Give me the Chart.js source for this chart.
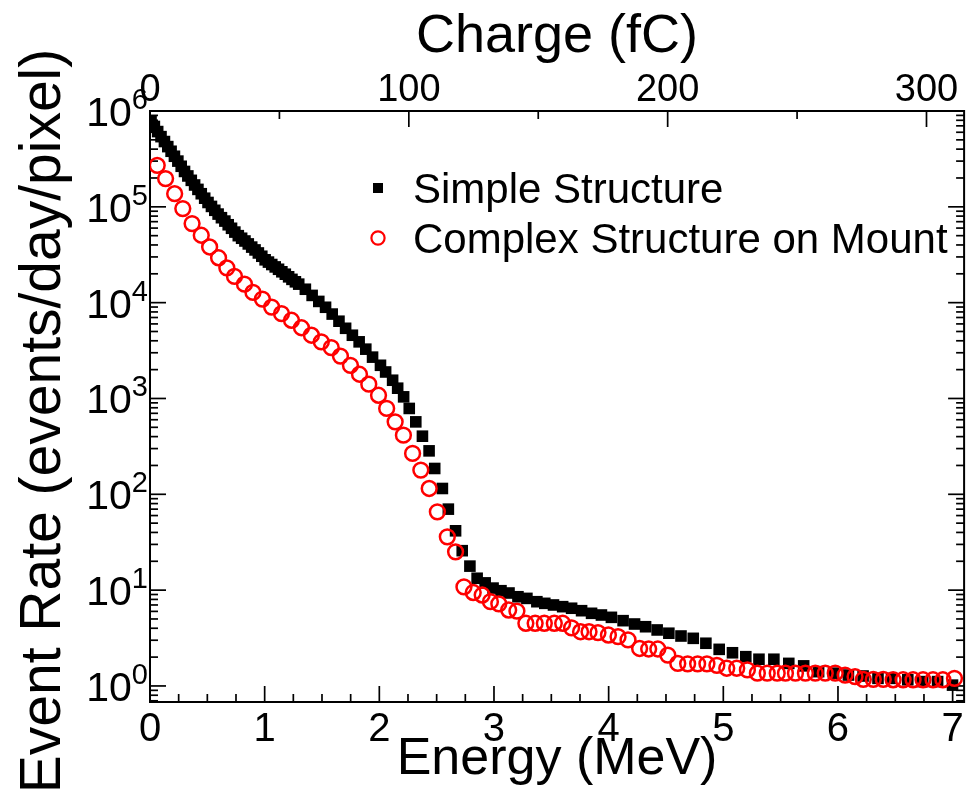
<!DOCTYPE html>
<html>
<head>
<meta charset="utf-8">
<script src="https://cdn.jsdelivr.net/npm/chart.js@4.4.1/dist/chart.umd.min.js"></script>
<style>
  html, body { margin: 0; padding: 0; background: #ffffff; }
  canvas { display: block; }
</style>
</head>
<body>
<canvas id="rateChart" width="974" height="804"></canvas>
<script>
// Simple structure: energy (MeV) and event rate (events/day/pixel)
const energySimple = [
  0.009, 0.038, 0.067, 0.096, 0.126, 0.155, 0.184, 0.213, 0.243, 0.272,
  0.301, 0.330, 0.360, 0.389, 0.418, 0.447, 0.477, 0.506, 0.536, 0.565,
  0.594, 0.623, 0.653, 0.682, 0.711, 0.740, 0.770, 0.799, 0.828, 0.857,
  0.887, 0.916, 0.945, 0.975, 1.004, 1.033, 1.062, 1.092, 1.121, 1.150,
  1.180, 1.209, 1.238, 1.268, 1.297, 1.355, 1.414, 1.472, 1.531, 1.589,
  1.648, 1.706, 1.765, 1.824, 1.882, 1.941, 2.010, 2.055, 2.116, 2.160,
  2.212, 2.261, 2.318, 2.376, 2.434, 2.483, 2.550, 2.602, 2.665, 2.723,
  2.790, 2.853, 2.923, 2.992, 3.061, 3.131, 3.209, 3.287, 3.374, 3.443,
  3.519, 3.599, 3.677, 3.764, 3.851, 3.937, 4.024, 4.126, 4.226, 4.322,
  4.423, 4.525, 4.631, 4.738, 4.848, 4.964, 5.080, 5.196, 5.311, 5.441,
  5.571, 5.701, 5.831, 5.961, 6.091, 6.219, 6.349, 6.467, 6.609, 6.739,
  6.869, 6.999
];
const rateSimple = [
  7.8e5, 6.9e5, 6.1e5, 5.4e5, 4.8e5, 4.25e5, 3.8e5, 3.37e5, 3.0e5, 2.65e5,
  2.34e5, 2.1e5, 1.89e5, 1.69e5, 1.52e5, 1.37e5, 1.23e5, 1.11e5, 1.01e5, 9.2e4,
  8.4e4, 7.7e4, 7.1e4, 6.5e4, 5.97e4, 5.45e4, 5.0e4, 4.7e4, 4.4e4, 4.1e4,
  3.8e4, 3.55e4, 3.3e4, 3.05e4, 2.8e4, 2.65e4, 2.5e4, 2.36e4, 2.23e4, 2.1e4,
  1.98e4, 1.86e4, 1.75e4, 1.65e4, 1.56e4, 1.38e4, 1.19e4, 1.03e4, 8950, 7600,
  6400, 5400, 4570, 3900, 3270, 2700, 2220, 1890, 1550, 1280,
  1040, 787, 570, 404, 284, 186, 115, 70, 41.6, 25.8,
  17.8, 13.3, 11.9, 10.5, 9.86, 9.33, 8.53, 8.2, 7.57, 7.28,
  7.0, 6.72, 6.47, 6.1, 5.73, 5.5, 5.2, 4.8, 4.43, 4.15,
  3.84, 3.55, 3.32, 3.14, 2.79, 2.41, 2.22, 2.02, 1.90, 1.90,
  1.72, 1.62, 1.41, 1.36, 1.30, 1.27, 1.20, 1.20, 1.16, 1.11,
  1.11, 1.02
];

// Complex structure on mount
const energyComplex = [
  0.063, 0.136, 0.215, 0.286, 0.367, 0.447, 0.520, 0.598, 0.670, 0.737,
  0.824, 0.898, 0.980, 1.061, 1.147, 1.234, 1.321, 1.408, 1.494, 1.581,
  1.661, 1.748, 1.827, 1.908, 1.993, 2.064, 2.138, 2.210, 2.290, 2.362,
  2.435, 2.506, 2.593, 2.665, 2.738, 2.819, 2.897, 2.969, 3.042, 3.128,
  3.200, 3.278, 3.359, 3.439, 3.526, 3.599, 3.677, 3.755, 3.829, 3.907,
  3.998, 4.082, 4.169, 4.270, 4.349, 4.429, 4.516, 4.603, 4.689, 4.776,
  4.857, 4.944, 5.030, 5.117, 5.210, 5.297, 5.383, 5.470, 5.542, 5.629,
  5.716, 5.802, 5.889, 5.976, 6.062, 6.149, 6.221, 6.308, 6.395, 6.481,
  6.568, 6.655, 6.742, 6.829, 6.915, 7.016
];
const rateComplex = [
  2.71e5, 1.97e5, 1.37e5, 9.58e4, 6.68e4, 5.05e4, 3.81e4, 2.94e4, 2.31e4, 1.88e4,
  1.56e4, 1.28e4, 1.09e4, 9000, 7700, 6550, 5470, 4570, 3890, 3390,
  2770, 2220, 1790, 1410, 1080, 787, 570, 414, 267, 179,
  115, 65.7, 36, 25.1, 10.8, 9.44, 8.89, 7.57, 7.2, 6.2,
  6.05, 4.51, 4.51, 4.51, 4.51, 4.51, 4.03, 3.68, 3.68, 3.61,
  3.40, 3.27, 3.02, 2.46, 2.43, 2.43, 2.10, 1.72, 1.70, 1.70,
  1.70, 1.64, 1.53, 1.53, 1.47, 1.36, 1.36, 1.36, 1.36, 1.36,
  1.36, 1.36, 1.36, 1.36, 1.30, 1.25, 1.17, 1.17, 1.17, 1.16,
  1.16, 1.16, 1.16, 1.16, 1.16, 1.20
];

const seriesNames = ['Simple Structure', 'Complex Structure on Mount'];
const energyTicks = [0, 1, 2, 3, 4, 5, 6, 7];
const chargeTicks = [0, 100, 200, 300];
const rateExponents = [0, 1, 2, 3, 4, 5, 6];
const rateTitle = 'Event Rate (events/day/pixel)';

const FONT = '"Liberation Sans", Arial, Helvetica, sans-serif';
const E_MAX = 7.1;
const FC_PER_MEV = 44.3;
const RATE_MIN = 0.68;
const RATE_MAX = 1e6;

const toPoints = (xs, ys) => xs.map((x, i) => ({ x: x, y: ys[i] }));

// Closed frame plus inward major/minor tick marks on all four sides
const frameTicks = {
  id: 'frameTicks',
  beforeDatasetsDraw(chart) {
    const { ctx, chartArea: a, scales } = chart;
    const MAJ = 16, MIN = 8;
    const seg = (x1, y1, x2, y2) => { ctx.beginPath(); ctx.moveTo(x1, y1); ctx.lineTo(x2, y2); ctx.stroke(); };
    ctx.save();
    ctx.strokeStyle = '#000';
    ctx.lineWidth = 2;
    ctx.strokeRect(a.left, a.top, a.right - a.left, a.bottom - a.top);
    ctx.lineWidth = 1.7;
    for (let i = 0; i * 0.25 <= E_MAX; i++) {
      const px = scales.x.getPixelForValue(i * 0.25);
      seg(px, a.bottom, px, a.bottom - (i % 4 === 0 ? MAJ : MIN));
    }
    for (let v = 0; v <= scales.x2.max; v += 50) {
      const px = scales.x2.getPixelForValue(v);
      seg(px, a.top, px, a.top + (v % 100 === 0 ? MAJ : MIN));
    }
    for (let e = -1; e <= 6; e++) {
      for (let m = 1; m <= 9; m++) {
        const v = m * Math.pow(10, e);
        if (v < RATE_MIN || v > RATE_MAX * 1.0001) continue;
        const py = scales.y.getPixelForValue(v);
        const len = m === 1 ? MAJ : MIN;
        seg(a.left, py, a.left + len, py);
        seg(a.right, py, a.right - len, py);
      }
    }
    ctx.restore();
  }
};

// Power-of-ten labels for the rate axis, with a raised exponent, plus the axis title
const rateLabels = {
  id: 'rateLabels',
  afterDraw(chart) {
    const s = chart.scales.y;
    const ctx = chart.ctx;
    ctx.save();
    ctx.fillStyle = '#000';
    ctx.textBaseline = 'alphabetic';
    ctx.textAlign = 'right';
    s.ticks.forEach(t => {
      const py = s.getPixelForValue(t.value);
      const exp = String(Math.round(Math.log10(t.value)));
      const right = s.right - 2;
      ctx.font = '29px ' + FONT;
      const ew = ctx.measureText(exp).width;
      ctx.fillText(exp, right, py - 2);
      ctx.font = '41px ' + FONT;
      ctx.fillText('10', right - ew, py + 15);
    });
    ctx.translate(44, 421);
    ctx.rotate(-Math.PI / 2);
    ctx.textAlign = 'center';
    ctx.textBaseline = 'middle';
    ctx.font = '57px ' + FONT;
    ctx.fillText(rateTitle, 0, 0);
    ctx.restore();
  }
};

// Legend drawn inside the plot using each dataset's marker style
const insetLegend = {
  id: 'insetLegend',
  afterDraw(chart) {
    const ctx = chart.ctx;
    const x0 = 378, y0 = 188, gap = 50, textX = 413;
    ctx.save();
    chart.data.datasets.forEach((ds, i) => {
      const y = y0 + i * gap;
      if (ds.pointStyle === 'rect') {
        ctx.fillStyle = ds.backgroundColor;
        ctx.fillRect(x0 - 5, y - 5, 10, 10);
      } else {
        ctx.strokeStyle = ds.borderColor;
        ctx.lineWidth = 2.2;
        ctx.beginPath();
        ctx.arc(x0, y, 6.6, 0, Math.PI * 2);
        ctx.stroke();
      }
      ctx.fillStyle = '#000';
      ctx.font = '42px ' + FONT;
      ctx.textBaseline = 'alphabetic';
      ctx.textAlign = 'left';
      ctx.fillText(ds.label, textX, y + 15);
    });
    ctx.restore();
  }
};

new Chart(document.getElementById('rateChart'), {
  type: 'scatter',
  data: {
    datasets: [
      {
        label: seriesNames[0],
        data: toPoints(energySimple, rateSimple),
        pointStyle: 'rect',
        pointRadius: 8.2,
        borderWidth: 0,
        backgroundColor: '#000000',
        borderColor: '#000000',
        order: 1
      },
      {
        label: seriesNames[1],
        data: toPoints(energyComplex, rateComplex),
        pointStyle: 'circle',
        pointRadius: 7.4,
        borderWidth: 2.5,
        backgroundColor: 'rgba(0,0,0,0)',
        borderColor: '#ff0000',
        order: 0
      }
    ]
  },
  options: {
    responsive: false,
    animation: false,
    devicePixelRatio: 1,
    layout: { padding: { left: 0, right: 5, top: 0, bottom: 0 } },
    plugins: { legend: { display: false }, tooltip: { enabled: false } },
    scales: {
      x: {
        type: 'linear',
        position: 'bottom',
        min: 0,
        max: E_MAX,
        afterBuildTicks: s => { s.ticks = energyTicks.map(v => ({ value: v })); },
        afterFit: s => { s.height = 102; },
        grid: { display: false, drawTicks: false },
        border: { display: false },
        ticks: { color: '#000', font: { family: FONT, size: 40 }, padding: 4, maxRotation: 0 },
        title: { display: true, text: 'Energy (MeV)', color: '#000', font: { family: FONT, size: 52 }, padding: { top: 0, bottom: 13 } }
      },
      x2: {
        type: 'linear',
        position: 'top',
        min: 0,
        max: E_MAX * FC_PER_MEV,
        afterBuildTicks: s => { s.ticks = chargeTicks.map(v => ({ value: v })); },
        afterFit: s => { s.height = 111; },
        grid: { display: false, drawTicks: false },
        border: { display: false },
        ticks: { color: '#000', font: { family: FONT, size: 38 }, padding: -2, maxRotation: 0 },
        title: { display: true, text: 'Charge (fC)', color: '#000', font: { family: FONT, size: 54 }, padding: { top: 5, bottom: 0 } }
      },
      y: {
        type: 'logarithmic',
        position: 'left',
        min: RATE_MIN,
        max: RATE_MAX,
        afterBuildTicks: s => { s.ticks = rateExponents.map(e => ({ value: Math.pow(10, e) })); },
        afterFit: s => { s.width = 150; },
        grid: { display: false, drawTicks: false },
        border: { display: false },
        ticks: { display: false },
        title: { display: false }
      }
    }
  },
  plugins: [frameTicks, rateLabels, insetLegend]
});
</script>
</body>
</html>
